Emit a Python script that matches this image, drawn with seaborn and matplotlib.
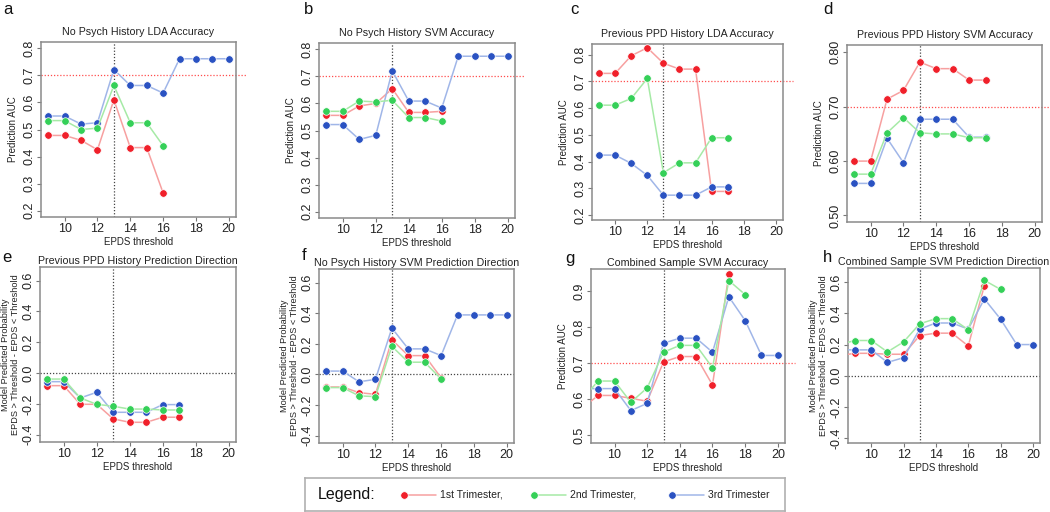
import numpy as np
import pandas as pd
import matplotlib
matplotlib.use("Agg")
import matplotlib.pyplot as plt
import seaborn as sns

sns.set_style("white")
plt.rcParams['font.family'] = ['Liberation Sans', 'DejaVu Sans']

nan = np.nan
thr = [8, 9, 10, 11, 12, 13, 14, 15, 16, 17, 18, 19, 20]

# a - No Psych History LDA Accuracy
a_t1 = [nan, .478, .478, .460, .425, .610, .433, .433, .265, nan, nan, nan, nan]
a_t2 = [nan, .533, .533, .500, .505, .663, .525, .525, .440, nan, nan, nan, nan]
a_t3 = [nan, .550, .550, .520, .525, .722, .663, .663, .635, .762, .762, .762, .762]
# b - No Psych History SVM Accuracy
b_t1 = [nan, .556, .556, .591, .600, .655, .567, .567, .571, nan, nan, nan, nan]
b_t2 = [nan, .571, .571, .609, .606, .612, .548, .548, .535, nan, nan, nan, nan]
b_t3 = [nan, .522, .522, .467, .482, .721, .609, .609, .583, .775, .775, .775, .775]
# c - Previous PPD History LDA Accuracy
c_t1 = [nan, .730, .730, .796, .826, .768, .746, .746, .288, .288, nan, nan, nan]
c_t2 = [nan, .611, .611, .636, .711, .358, .395, .395, .489, .489, nan, nan, nan]
c_t3 = [nan, .424, .424, .393, .348, .274, .274, .274, .305, .305, nan, nan, nan]
# d - Previous PPD History SVM Accuracy
d_t1 = [nan, .600, .600, .714, .730, .782, .770, .770, .749, .749, nan, nan, nan]
d_t2 = [nan, .576, .576, .652, .680, .652, .650, .650, .643, .643, nan, nan, nan]
d_t3 = [nan, .559, .559, .642, .597, .677, .677, .677, .644, .644, nan, nan, nan]
# e - Previous PPD History Prediction Direction
e_t1 = [nan, -.082, -.082, -.203, -.203, -.298, -.320, -.320, -.287, -.287, nan, nan, nan]
e_t2 = [nan, -.039, -.039, -.162, -.203, -.216, -.234, -.234, -.240, -.240, nan, nan, nan]
e_t3 = [nan, -.056, -.056, -.162, -.125, -.255, -.255, -.255, -.205, -.205, nan, nan, nan]
# f - No Psych History SVM Prediction Direction
f_t1 = [nan, -.082, -.082, -.119, -.130, .227, .123, .123, -.022, nan, nan, nan, nan]
f_t2 = [nan, -.086, -.086, -.140, -.145, .184, .080, .080, -.030, nan, nan, nan, nan]
f_t3 = [nan, .022, .022, -.048, -.032, .303, .167, .167, .123, .389, .389, .389, .389]
# g - Combined Sample SVM Accuracy
g_t1 = [.575, .611, .611, .603, .595, .704, .719, .719, .640, .947, nan, nan, nan]
g_t2 = [.600, .651, .651, .592, .632, .731, .750, .750, .688, .930, .891, nan, nan]
g_t3 = [.630, .630, .630, .569, .589, .756, .770, .770, .731, .885, .819, .722, .722]
# h - Combined Sample SVM Prediction Direction
h_t1 = [.130, .144, .144, .138, .138, .258, .273, .273, .191, .578, nan, nan, nan]
h_t2 = [.200, .226, .226, .153, .217, .333, .366, .366, .295, .611, .553, nan, nan]
h_t3 = [.166, .166, .166, .086, .116, .299, .338, .338, .299, .492, .363, .200, .200]

trimesters = ["1st Trimester,", "2nd Trimester,", "3rd Trimester"]
line_cols = ["#f7a0a0", "#a6eaa6", "#a0b6e8"]
dot_cols = ["#f0202a", "#35d058", "#2a52c2"]

W, H = 1050, 512
def box(x0, y0, x1, y1):
    return [x0 / W, 1 - y1 / H, (x1 - x0) / W, (y1 - y0) / H]

acc_ticks = [0.2, 0.3, 0.4, 0.5, 0.6, 0.7, 0.8]
dir_ticks = [-0.4, -0.2, 0.0, 0.2, 0.4, 0.6]
dir_label = "Model Predicted Probability\nEPDS > Threshold - EPDS < Threshold"

panels = [
    ("a", "No Psych History LDA Accuracy", (a_t1, a_t2, a_t3), box(41, 42, 236, 217),
     (0.176, 0.824), acc_ticks, "%.1f", "acc", 1),
    ("b", "No Psych History SVM Accuracy", (b_t1, b_t2, b_t3), box(319, 43, 515, 218),
     (0.176, 0.824), acc_ticks, "%.1f", "acc", 1),
    ("c", "Previous PPD History LDA Accuracy", (c_t1, c_t2, c_t3), box(592, 44, 783, 220),
     (0.181, 0.840), acc_ticks, "%.1f", "acc", 1),
    ("d", "Previous PPD History SVM Accuracy", (d_t1, d_t2, d_t3), box(847, 45, 1042, 222),
     (0.488, 0.8135), [0.5, 0.6, 0.7, 0.8], "%.2f", "acc", 1),
    ("e", "Previous PPD History Prediction Direction", (e_t1, e_t2, e_t3), box(40, 267, 236, 442),
     (-0.448, 0.689), dir_ticks, "%.1f", "dir", 2),
    ("f", "No Psych History SVM Prediction Direction", (f_t1, f_t2, f_t3), box(319, 269, 514, 443),
     (-0.448, 0.689), dir_ticks, "%.1f", "dir", 2),
    ("g", "Combined Sample SVM Accuracy", (g_t1, g_t2, g_t3), box(591, 269, 785, 443),
     (0.479, 0.962), [0.5, 0.6, 0.7, 0.8, 0.9], "%.1f", "acc", 2),
    ("h", "Combined Sample SVM Prediction Direction", (h_t1, h_t2, h_t3), box(848, 268, 1040, 443),
     (-0.43, 0.69), dir_ticks, "%.1f", "dir", 2),
]
letter_pos = {"a": (3, 9), "b": (304, 9), "c": (570, 10), "d": (823, 9),
              "e": (2, 257), "f": (302, 255), "g": (565, 258), "h": (823, 257)}

fig = plt.figure(figsize=(10.5, 5.12), dpi=100)

for letter, title, series, pos, ylim, yticks, fmt, kind, row in panels:
    ax = fig.add_axes(pos)
    df = pd.DataFrame({"threshold": thr})
    for name, vals in zip(trimesters, series):
        df[name] = vals
    long = df.melt(id_vars="threshold", var_name="trimester", value_name="value")
    for i in [0, 2, 1]:
        sub = long[long.trimester == trimesters[i]].dropna()
        sns.lineplot(data=sub, x="threshold", y="value", ax=ax, color=line_cols[i],
                     linewidth=1.1, marker="o", markersize=5.4,
                     markerfacecolor=dot_cols[i], markeredgecolor="white",
                     markeredgewidth=0.5, legend=False, zorder=3)
    ax.set_xlim(8.56, 20.44)
    ax.set_ylim(*ylim)
    ax.set_xticks([10, 12, 14, 16, 18, 20])
    ax.set_yticks(yticks)
    ax.set_yticklabels([fmt % v for v in yticks], rotation=90, va="center")
    ax.tick_params(axis="both", which="major", direction="out", length=3, width=0.8,
                   color="#777777", labelsize=9, labelcolor="#222222", pad=1,
                   left=True, bottom=True)
    for s in ax.spines.values():
        s.set_color("#8a8a8a")
        s.set_linewidth(1.1)
    ax.axvline(13, color="#444444", linestyle=(0, (1, 1.5)), linewidth=0.9, zorder=2)
    if kind == "acc":
        ax.plot([0, 1.05], [0.7, 0.7], transform=ax.get_yaxis_transform(), clip_on=False,
                color="#ff4d4d", linestyle=(0, (1, 1.5)), linewidth=0.9, zorder=2)
        ax.set_ylabel("Prediction AUC", fontsize=7, color="#222222", labelpad=4)
    else:
        ax.axhline(0.0, color="#444444", linestyle=(0, (1, 1.5)), linewidth=0.9, zorder=2)
        ax.set_ylabel(dir_label, fontsize=6.6, color="#222222", labelpad=1.5, linespacing=1.15)
    ax.set_xlabel("EPDS threshold", fontsize=7, color="#222222", labelpad=2)
    ax.set_title(title, fontsize=7.7, color="#222222", pad=5 if row == 1 else 2)
    lx, ly = letter_pos[letter]
    fig.text(lx / W, 1 - ly / H, letter, fontsize=12, color="#111111", va="center", ha="left")

# legend box
lax = fig.add_axes(box(305, 478, 785, 511))
lax.set_xlim(0, 480)
lax.set_ylim(0, 33)
lax.set_xticks([])
lax.set_yticks([])
for s in lax.spines.values():
    s.set_color("#b0b0b0")
    s.set_linewidth(1.2)
lax.text(13, 16.5, "Legend:", fontsize=11.5, va="center", ha="left", color="#111111")
entry_x = [99, 229, 367]
for i, name in enumerate(trimesters):
    x0 = entry_x[i]
    lax.plot([x0, x0 + 32], [16.5, 16.5], color=line_cols[i], linewidth=1.1)
    lax.plot([x0], [16.5], marker="o", markersize=5.4, color=dot_cols[i],
             markeredgecolor="white", markeredgewidth=0.5)
    lax.text(x0 + 36, 16.5, name, fontsize=7.5, va="center", ha="left", color="#222222")

fig.savefig("out.png", dpi=100)
